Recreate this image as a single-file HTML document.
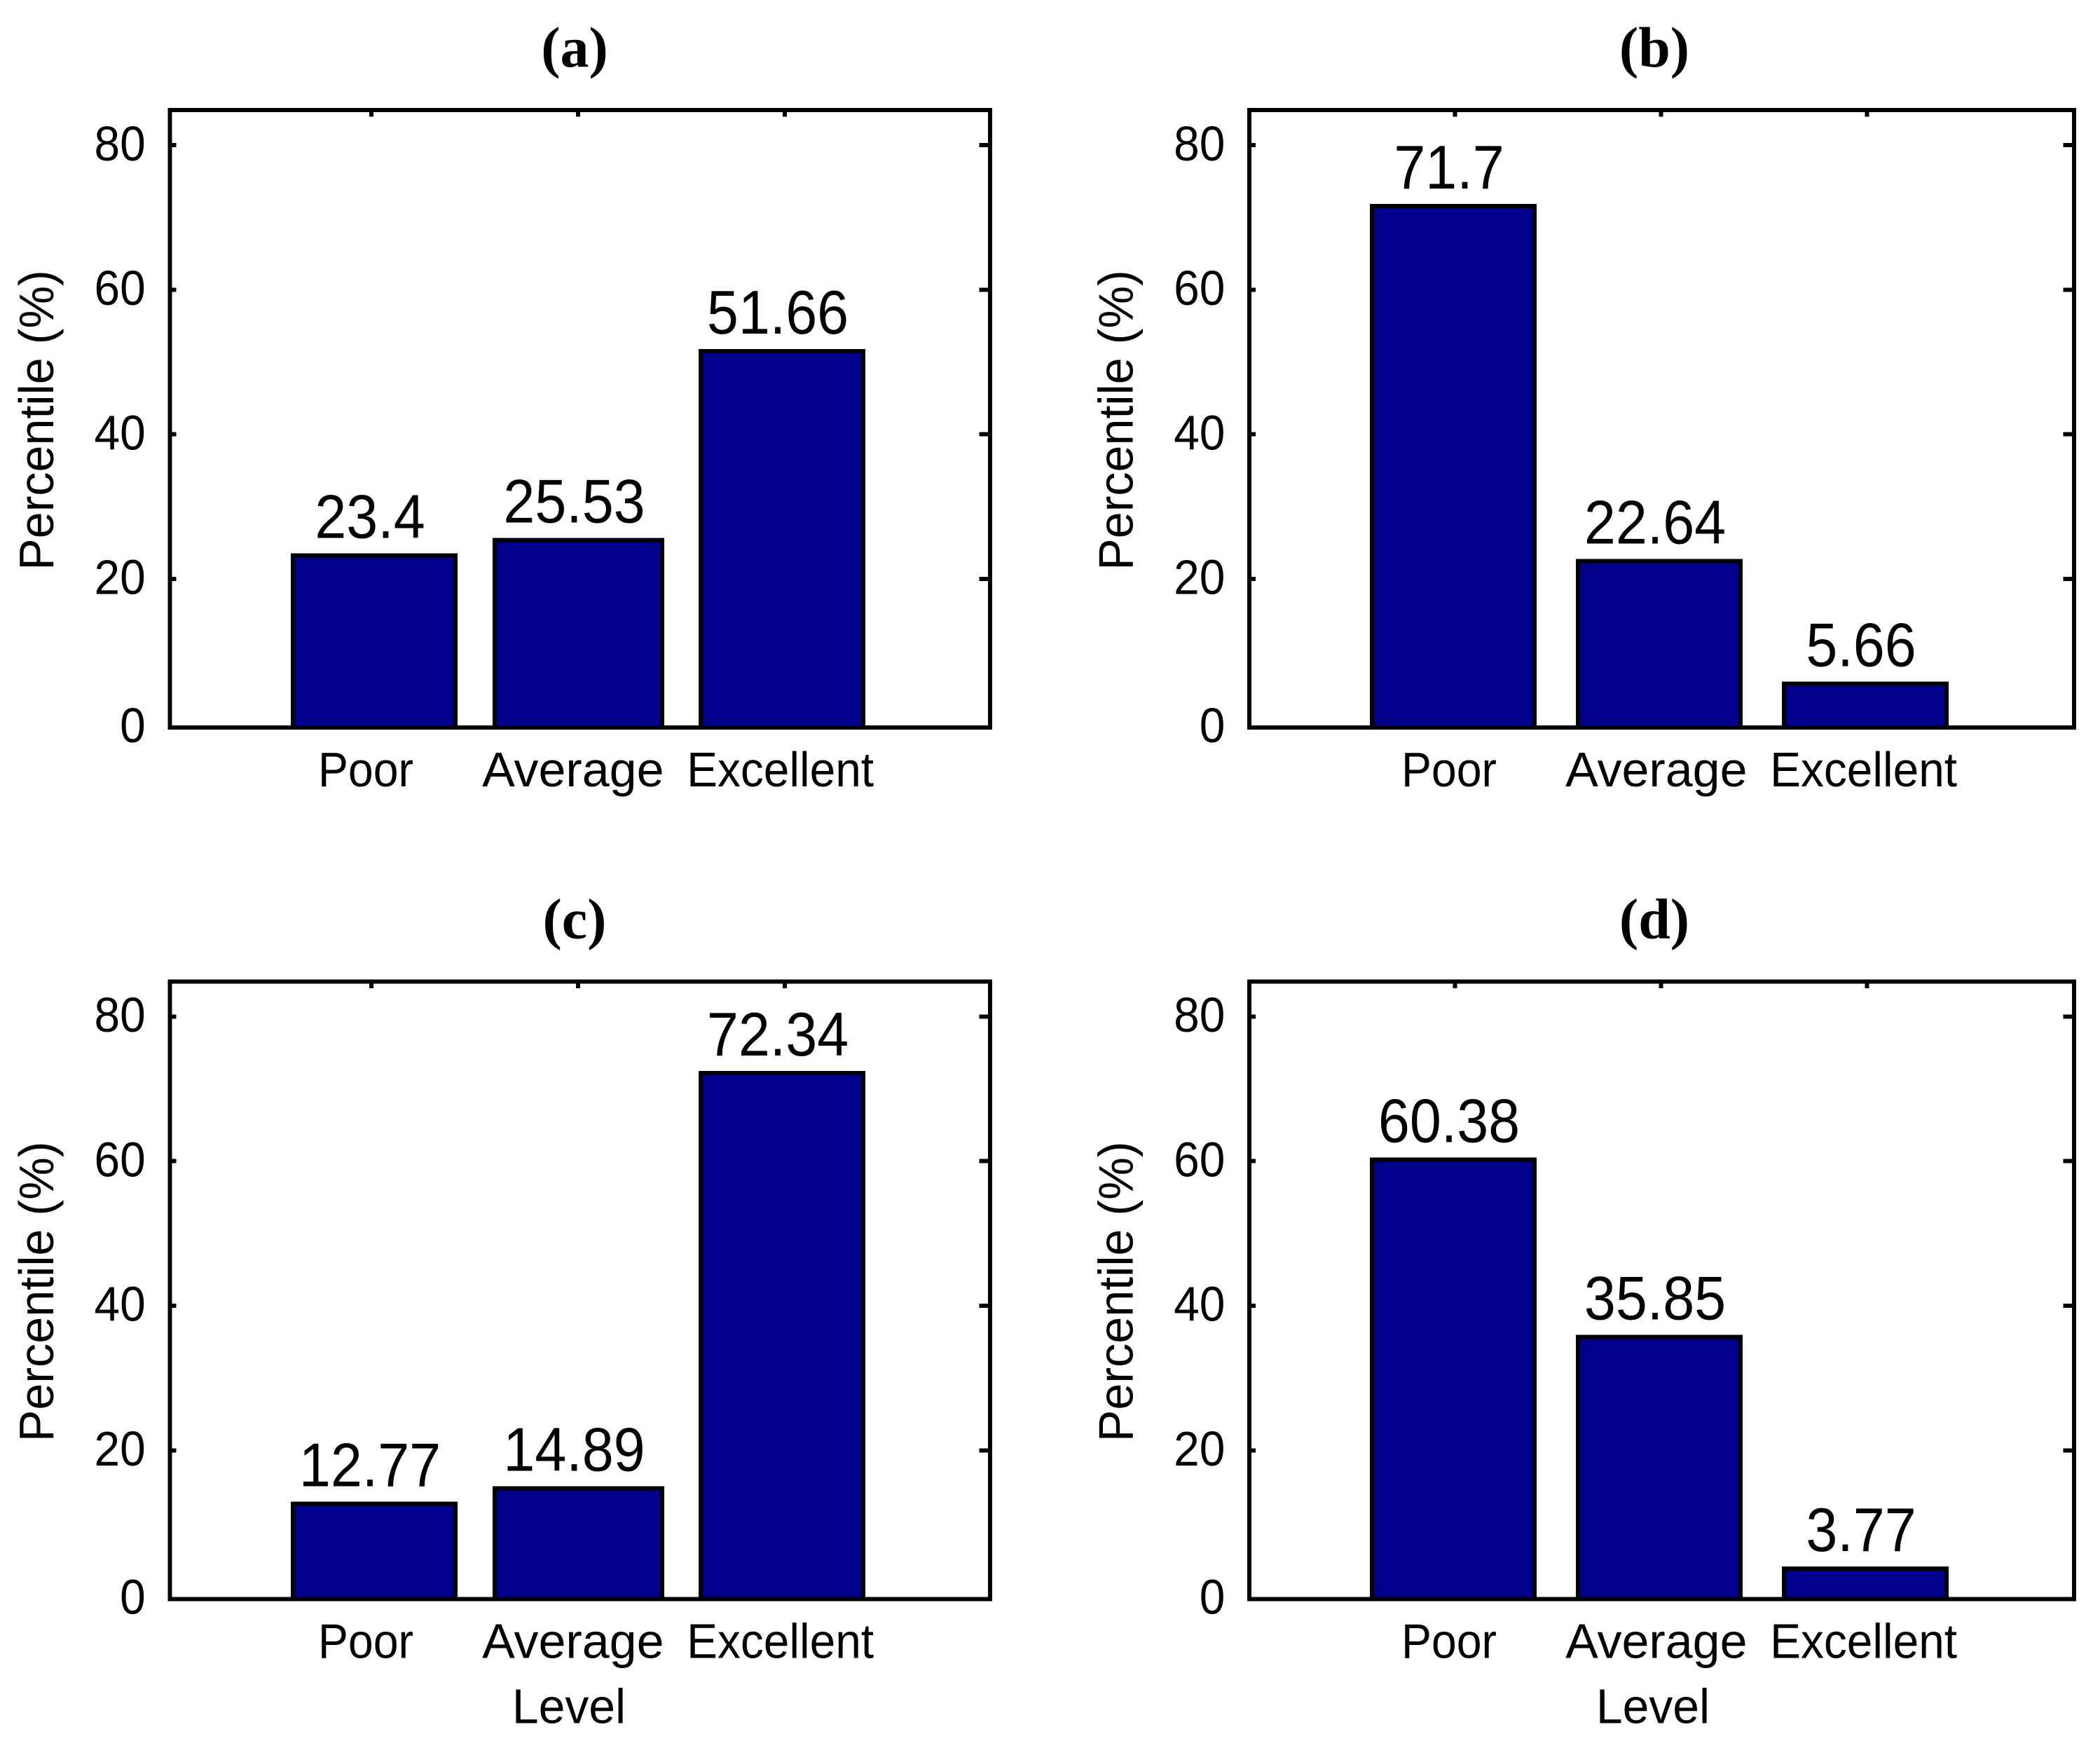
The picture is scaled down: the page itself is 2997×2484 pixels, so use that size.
<!DOCTYPE html>
<html lang="en">
<head>
<meta charset="utf-8">
<title>Percentile by level, panels a to d</title>
<style>
  html, body { margin: 0; padding: 0; background: #fff; }
  svg { display: block; }
  text { font-family: "Liberation Sans", sans-serif; fill: #000; }
  .title { font-family: "Liberation Serif", serif; font-weight: bold; font-size: 82px; text-anchor: middle; }
  .tick { font-size: 70px; text-anchor: end; }
  .cat, .axis-title { font-size: 70px; text-anchor: middle; }
  .val { font-size: 86px; text-anchor: middle; }
  rect { shape-rendering: crispEdges; }
</style>
</head>
<body>
<svg id="chart" xmlns="http://www.w3.org/2000/svg" width="2997" height="2484" viewBox="0 0 2997 2484">
  <rect x="0" y="0" width="2997" height="2484" fill="#fff"/>
</svg>
<script>
// Chart data
const categories = ["Poor", "Average", "Excellent"];
const tickValues = [0, 20, 40, 60, 80];
const panelNames = ["a", "b", "c", "d"];
const valuesA = [23.4, 25.53, 51.66];
const valuesB = [71.7, 22.64, 5.66];
const valuesC = [12.77, 14.89, 72.34];
const valuesD = [60.38, 35.85, 3.77];
const seriesValues = [valuesA, valuesB, valuesC, valuesD];

// Layout (not data)
const NS = "http://www.w3.org/2000/svg";
const svg = document.getElementById("chart");
const ROW_OFFSET = 1243.3;
const catFit = { Poor: 0.92, Average: 1.0, Excellent: 0.94 };

function layoutFor(index) {
  const right = index % 2 === 1;
  return {
    dy: index >= 2 ? ROW_OFFSET : 0,
    left: right ? 1783 : 242.5,
    right: right ? 2960 : 1413,
    barStart: right ? 1958 : 418,
    barStep: right ? 294 : 291,
    barWidth: 232,
    midPadLeft: right ? 0 : 3,
    midPadRight: right ? 0 : 4,
    catStart: right ? 2068 : 522,
    catStep: 295.8,
    topTickStart: right ? 2076.6 : 530,
    topTickStep: right ? 294 : 295,
    tickLabelRight: right ? 1748.3 : 207.7,
    yTitleBase: right ? 1616.7 : 76.2,
    titleX: right ? 2361 : 820,
    levelX: right ? 2359 : 812
  };
}

// Axis functions
function yScale(v, L) { return 1032.3 - 10.315 * v + L.dy; }
function barLeft(i, L) { return L.barStart + L.barStep * i - (i === 1 ? L.midPadLeft : 0); }
function barWide(i, L) { return L.barWidth + (i === 1 ? L.midPadLeft + L.midPadRight : 0); }

function make(tag, attrs, parent, content) {
  const node = document.createElementNS(NS, tag);
  Object.keys(attrs).forEach(function (k) { node.setAttribute(k, attrs[k]); });
  if (content !== undefined) node.textContent = content;
  parent.appendChild(node);
  return node;
}

seriesValues.forEach(function (values, p) {
  const L = layoutFor(p);
  const top = 157 + L.dy;
  const bottom = 1038 + L.dy;

  const group = make("g", {}, svg);
  
  

  const title = make("text", { class: "title", x: L.titleX, y: 95 + L.dy }, group, "(" + panelNames[p] + ")");
  
  

  const yTitle = make("text", {
    class: "axis-title",
    transform: "translate(" + L.yTitleBase + "," + (599.5 + L.dy) + ") rotate(-90) scale(0.975,1)"
  }, group, "Percentile (%)");
  
  

  tickValues.forEach(function (t) {
    const ty = yScale(t, L);
    const label = make("text", {
      class: "tick",
      transform: "translate(" + L.tickLabelRight + "," + (ty + 21.7 + (t === 0 ? 5 : 0)) + ") scale(0.94,1)"
    }, group, String(t));
    
    
    if (t === 0) return;
    const leftTick = make("rect", { x: L.left, y: ty - 3, width: 9, height: 6, fill: "#000" }, group);
    
    
    const rightTick = make("rect", { x: L.right - 15.7, y: ty - 3, width: 15.7, height: 6, fill: "#000" }, group);
    
    
  });

  categories.forEach(function (c, i) {
    const topTick = make("rect", {
      x: L.topTickStart + L.topTickStep * i - 3, y: top, width: 6, height: 9.7, fill: "#000"
    }, group);
    
    

    const v = values[i];
    const barTop = yScale(v, L) + 1.5;
    const x = barLeft(i, L);
    const w = barWide(i, L);
    const bar = make("rect", {
      x: x, y: barTop, width: w, height: bottom - barTop,
      fill: "#00008b", stroke: "#000", "stroke-width": 6
    }, group);
    
    

    const valueLabel = make("text", {
      class: "val",
      transform: "translate(" + (x + w / 2 - 6) + "," + (barTop - 25) + ") scale(0.94,1.02)"
    }, group, String(v));
    
    

    const catLabel = make("text", {
      class: "cat",
      transform: "translate(" + (L.catStart + L.catStep * i) + "," + (1122 + L.dy) + ") scale(" + catFit[c] + ",1)"
    }, group, c);
    
    
  });

  const frame = make("rect", {
    x: L.left, y: top, width: L.right - L.left, height: bottom - top,
    fill: "none", stroke: "#000", "stroke-width": 6
  }, group);
  
  

  if (p >= 2) {
    const xTitle = make("text", {
      class: "axis-title",
      transform: "translate(" + L.levelX + "," + (2458.7) + ") scale(0.97,1)"
    }, group, "Level");
    
    
  }
});
</script>
</body>
</html>
